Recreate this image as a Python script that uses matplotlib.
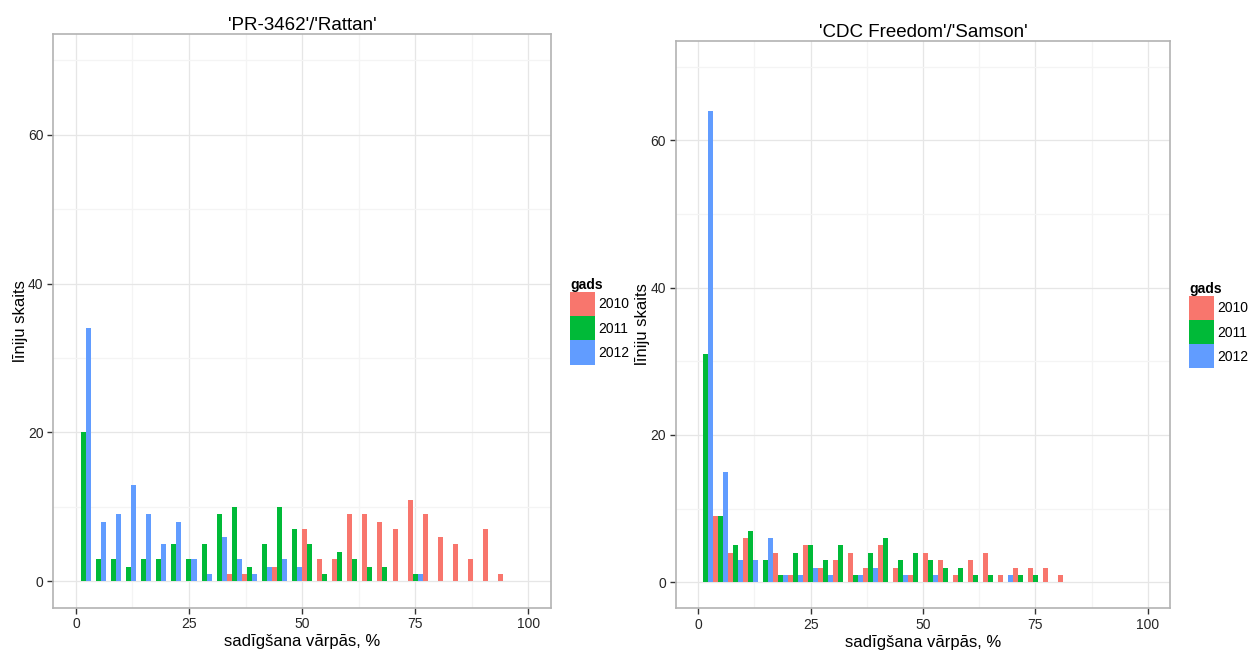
import numpy as np
import matplotlib
matplotlib.use("Agg")
import matplotlib.pyplot as plt
from matplotlib.patches import Patch

plt.rcParams['font.family'] = ['Liberation Sans', 'DejaVu Sans']

# līniju skaits katrā 100/30 % intervālā (30 intervāli no 0 līdz 100)
rattan_2010 = [0, 0, 0, 0, 0, 0, 0, 0, 0, 0, 1, 1, 0, 2, 0, 7, 3, 3, 9, 9, 8, 7, 11, 9, 6, 5, 3, 7, 1, 0]
rattan_2011 = [20, 3, 3, 2, 3, 3, 5, 3, 5, 9, 10, 2, 5, 10, 7, 5, 1, 4, 3, 2, 2, 0, 1, 0, 0, 0, 0, 0, 0, 0]
rattan_2012 = [34, 8, 9, 13, 9, 5, 8, 3, 1, 6, 3, 1, 2, 3, 2, 0, 0, 0, 0, 0, 0, 0, 1, 0, 0, 0, 0, 0, 0, 0]

samson_2010 = [0, 9, 4, 6, 0, 4, 1, 5, 2, 3, 4, 2, 5, 2, 1, 4, 3, 1, 3, 4, 1, 2, 2, 2, 1, 0, 0, 0, 0, 0]
samson_2011 = [31, 9, 5, 7, 3, 1, 4, 5, 3, 5, 1, 4, 6, 3, 4, 3, 2, 2, 1, 1, 0, 1, 1, 0, 0, 0, 0, 0, 0, 0]
samson_2012 = [64, 15, 3, 3, 6, 1, 1, 2, 1, 0, 1, 2, 0, 1, 0, 1, 0, 0, 0, 0, 1, 0, 0, 0, 0, 0, 0, 0, 0, 0]

years = ['2010', '2011', '2012']
colors = ['#F8766D', '#00BA38', '#619CFF']
titles = ["'PR-3462'/'Rattan'", "'CDC Freedom'/'Samson'"]

binwidth = 100 / 30
edges = np.arange(30) * binwidth

fig = plt.figure(figsize=(12.49, 6.5), dpi=100)
ax1 = fig.add_axes([53.3 / 1249, 1 - 607.5 / 650, 497.5 / 1249, 573.5 / 650])
ax2 = fig.add_axes([675.7 / 1249, 1 - 608 / 650, 494.5 / 1249, 567 / 650])

panels = [
    (ax1, [rattan_2010, rattan_2011, rattan_2012], 570, 278),
    (ax2, [samson_2010, samson_2011, samson_2012], 1189, 282),
]

for i, (ax, counts, lx, ly) in enumerate(panels):
    # grupas blakus viena intervāla iekšā (kā position="dodge")
    for g, (vals, col) in enumerate(zip(counts, colors)):
        ax.bar(edges + g * binwidth / 3, vals, width=binwidth / 3, align='edge',
               color=col, linewidth=0, zorder=3)

    ax.set_xlim(-5, 105)
    ax.set_ylim(-3.5, 73.5)
    ax.set_xticks([0, 25, 50, 75, 100])
    ax.set_xticks([12.5, 37.5, 62.5, 87.5], minor=True)
    ax.set_yticks([0, 20, 40, 60])
    ax.set_yticks([10, 30, 50, 70], minor=True)
    ax.grid(True, which='major', color='#E6E6E6', linewidth=0.9, zorder=0)
    ax.grid(True, which='minor', color='#F4F4F4', linewidth=0.9, zorder=0)
    ax.set_axisbelow(True)
    for s in ax.spines.values():
        s.set_color('#B3B3B3')
        s.set_linewidth(1.2)
    ax.tick_params(which='major', length=4, width=1, color='#333333',
                   labelsize=10, labelcolor='#262626', pad=3)
    ax.tick_params(which='minor', length=0)

    ax.set_title(titles[i], fontsize=13.5, pad=2.5)
    ax.set_xlabel('sadīgšana vārpās, %', fontsize=12, labelpad=2)
    ax.set_ylabel('līniju skaits', fontsize=12, labelpad=0)

    handles = [Patch(facecolor=c, edgecolor='none') for c in colors]
    leg = fig.legend(handles, years, title='gads', loc='upper left',
                     bbox_to_anchor=(lx / 1249, 1 - ly / 650),
                     bbox_transform=fig.transFigure, frameon=False,
                     fontsize=10, title_fontproperties={'weight': 'bold', 'size': 10},
                     handlelength=1.8, handleheight=2.3, labelspacing=0,
                     handletextpad=0.25, borderpad=0, borderaxespad=0,
                     alignment='left')

fig.savefig('out.png', dpi=100)
